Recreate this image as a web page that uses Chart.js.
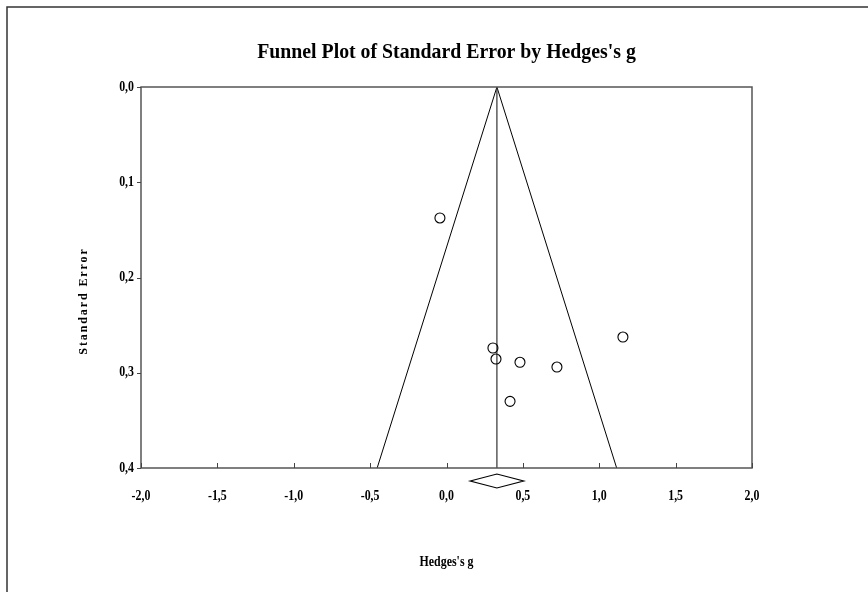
<!DOCTYPE html>
<html>
<head>
<meta charset="utf-8">
<script src="https://cdn.jsdelivr.net/npm/chart.js@4/dist/chart.umd.min.js"></script>
<style>
html,body{margin:0;padding:0;background:#fff;}
canvas{display:block;}
</style>
</head>
<body>
<canvas id="c" width="868" height="592"></canvas>
<script>
// ---- data ----
const titleText = "Funnel Plot of Standard Error by Hedges's g";
const xAxisTitle = "Hedges's g";
const yAxisTitle = "Standard Error";
const xTickValues = [-2, -1.5, -1, -0.5, 0, 0.5, 1, 1.5, 2];
const xTickLabels = ['-2,0', '-1,5', '-1,0', '-0,5', '0,0', '0,5', '1,0', '1,5', '2,0'];
const yTickValues = [0, 0.1, 0.2, 0.3, 0.4];
const yTickLabels = ['0,0', '0,1', '0,2', '0,3', '0,4'];
const studyG  = [-0.043, 0.304, 0.324, 0.481, 0.723, 1.155, 0.416];
const studySE = [0.1375, 0.274, 0.2856, 0.289, 0.294, 0.2625, 0.330];
const summaryG = 0.33;
const summaryLower = 0.155;
const summaryUpper = 0.505;
const funnelX = [-0.454, 0.33, 1.114];
const funnelY = [0.4, 0, 0.4];
const centerLineX = [0.33, 0.33];
const centerLineY = [0, 0.4];

const serif = '"Liberation Serif", "Times New Roman", serif';

function drawText(ctx, txt, x, y, size, sx, align) {
  ctx.save();
  ctx.translate(x, y);
  ctx.scale(sx, 1);
  ctx.font = 'bold ' + size + 'px ' + serif;
  ctx.fillStyle = '#000';
  ctx.textAlign = align;
  ctx.textBaseline = 'middle';
  ctx.fillText(txt, 0, 0);
  ctx.restore();
}

const decor = {
  id: 'decor',
  beforeDraw(chart) {
    const ctx = chart.ctx;
    ctx.save();
    ctx.fillStyle = '#fff';
    ctx.fillRect(0, 0, chart.width, chart.height);
    ctx.strokeStyle = '#333';
    ctx.lineWidth = 1.5;
    ctx.beginPath();
    ctx.moveTo(7, 592);
    ctx.lineTo(7, 7);
    ctx.lineTo(868, 7);
    ctx.stroke();
    ctx.restore();
  },
  afterDraw(chart) {
    const ctx = chart.ctx;
    const a = chart.chartArea;
    const xs = chart.scales.x, ys = chart.scales.y;
    ctx.save();
    // plot frame
    ctx.strokeStyle = '#555';
    ctx.lineWidth = 1.5;
    ctx.strokeRect(a.left, a.top, a.right - a.left, a.bottom - a.top);
    // x ticks (inside), y ticks (outside)
    ctx.lineWidth = 1;
    ctx.strokeStyle = '#444';
    ctx.beginPath();
    xTickValues.forEach(v => {
      const px = Math.round(xs.getPixelForValue(v)) + 0.5;
      ctx.moveTo(px, a.bottom);
      ctx.lineTo(px, a.bottom - 5);
    });
    yTickValues.forEach(v => {
      const py = Math.round(ys.getPixelForValue(v)) + 0.5;
      ctx.moveTo(a.left, py);
      ctx.lineTo(a.left - 4, py);
    });
    ctx.stroke();
    // diamond (summary effect)
    const cx = xs.getPixelForValue(summaryG);
    const lx = xs.getPixelForValue(summaryLower);
    const rx = xs.getPixelForValue(summaryUpper);
    const cy = a.bottom + 13;
    ctx.strokeStyle = '#000';
    ctx.lineWidth = 1.2;
    ctx.beginPath();
    ctx.moveTo(lx, cy);
    ctx.lineTo(cx, cy - 7);
    ctx.lineTo(rx, cy);
    ctx.lineTo(cx, cy + 7);
    ctx.closePath();
    ctx.stroke();
    ctx.restore();
    // texts
    drawText(ctx, titleText, (a.left + a.right) / 2, 52, 22, 0.9, 'center');
    yTickValues.forEach((v, i) => {
      drawText(ctx, yTickLabels[i], 134, ys.getPixelForValue(v), 14, 0.85, 'right');
    });
    xTickValues.forEach((v, i) => {
      drawText(ctx, xTickLabels[i], xs.getPixelForValue(v), 496, 14, 0.85, 'center');
    });
    drawText(ctx, xAxisTitle, (a.left + a.right) / 2, 562, 14, 0.85, 'center');
    ctx.save();
    ctx.translate(84, 301);
    ctx.rotate(-Math.PI / 2);
    ctx.font = 'bold 12px ' + serif;
    ctx.letterSpacing = '1.9px';
    ctx.fillStyle = '#000';
    ctx.textAlign = 'center';
    ctx.textBaseline = 'middle';
    ctx.fillText(yAxisTitle, 0, 0);
    ctx.restore();
  }
};

new Chart(document.getElementById('c'), {
  type: 'scatter',
  data: {
    datasets: [
      {
        label: 'Funnel',
        data: funnelX.map((x, i) => ({x: x, y: funnelY[i]})),
        showLine: true, pointRadius: 0, borderColor: '#000', borderWidth: 1, fill: false, order: 3
      },
      {
        label: 'Center',
        data: centerLineX.map((x, i) => ({x: x, y: centerLineY[i]})),
        showLine: true, pointRadius: 0, borderColor: '#333', borderWidth: 1.2, fill: false, order: 2
      },
      {
        label: 'Studies',
        data: studyG.map((g, i) => ({x: g, y: studySE[i]})),
        pointStyle: 'circle', pointRadius: 5, pointHoverRadius: 5,
        backgroundColor: 'rgba(0,0,0,0)', borderColor: '#000', borderWidth: 1.1, order: 1
      }
    ]
  },
  options: {
    responsive: false,
    animation: false,
    devicePixelRatio: 1,
    layout: { padding: { left: 0, top: 87, right: 116, bottom: 0 } },
    plugins: { legend: { display: false }, title: { display: false }, tooltip: { enabled: false } },
    scales: {
      x: {
        type: 'linear', min: -2, max: 2,
        grid: { display: false }, border: { display: false },
        ticks: { display: false },
        afterFit: s => { s.height = 124; }
      },
      y: {
        type: 'linear', min: 0, max: 0.4, reverse: true,
        grid: { display: false }, border: { display: false },
        ticks: { display: false },
        afterFit: s => { s.width = 141; }
      }
    }
  },
  plugins: [decor]
});
</script>
</body>
</html>
